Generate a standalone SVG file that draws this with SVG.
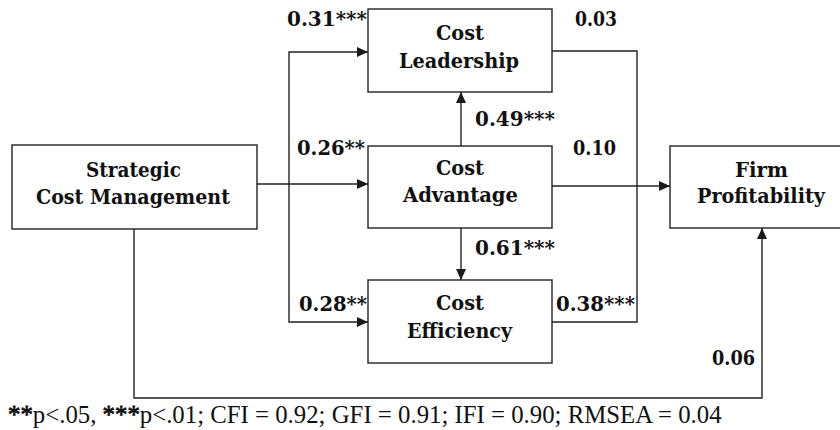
<svg xmlns="http://www.w3.org/2000/svg" width="840" height="430" viewBox="0 0 840 430">
  <defs>
    <marker id="arrow" markerUnits="userSpaceOnUse" markerWidth="12" markerHeight="11" refX="11" refY="5" orient="auto">
      <path d="M0,0 L11,5 L0,10 Z" fill="#1a1a1a"/>
    </marker>
    <style>
      .box { fill: #ffffff; stroke: #222222; stroke-width: 1.4; }
      .edge { fill: none; stroke: #222222; stroke-width: 1.4; }
      .nd { font-family: "DejaVu Serif", serif; font-weight: bold; font-size: 21px; fill: #111111; }
      .cf { font-family: "DejaVu Serif", serif; font-weight: bold; font-size: 20.5px; fill: #111111; }
      .ft { font-family: "Liberation Serif", serif; font-size: 24.8px; fill: #111111; }
      .ft .b { stroke: #111111; stroke-width: 0.8; }
    </style>
  </defs>

  <rect width="840" height="430" fill="#ffffff"/>

  <!-- connectors -->
  <g id="connectors">
    <path class="edge" d="M257,184 H368" marker-end="url(#arrow)"/>
    <path class="edge" d="M289,184 V52 H368" marker-end="url(#arrow)"/>
    <path class="edge" d="M289,184 V322 H368" marker-end="url(#arrow)"/>
    <path class="edge" d="M461,146 V92" marker-end="url(#arrow)"/>
    <path class="edge" d="M461,228 V280" marker-end="url(#arrow)"/>
    <path class="edge" d="M552,186 H670" marker-end="url(#arrow)"/>
    <path class="edge" d="M552,51 H637 V322 H552"/>
    <path class="edge" d="M134,229 V398 H762 V228" marker-end="url(#arrow)"/>
  </g>

  <!-- nodes: two-line titles, each line fitted to its width -->
  <g id="strategic-cost-management">
    <rect class="box" x="12" y="145" width="245" height="84"/>
    <text class="nd" x="86" y="177" textLength="95" lengthAdjust="spacingAndGlyphs">Strategic</text>
    <text class="nd" x="36" y="204" textLength="194" lengthAdjust="spacingAndGlyphs">Cost Management</text>
  </g>
  <g id="cost-leadership">
    <rect class="box" x="368" y="9" width="184" height="83"/>
    <text class="nd" x="436" y="40" textLength="48" lengthAdjust="spacingAndGlyphs">Cost</text>
    <text class="nd" x="399" y="68" textLength="120" lengthAdjust="spacingAndGlyphs">Leadership</text>
  </g>
  <g id="cost-advantage">
    <rect class="box" x="368" y="146" width="184" height="82"/>
    <text class="nd" x="436" y="175" textLength="48" lengthAdjust="spacingAndGlyphs">Cost</text>
    <text class="nd" x="403" y="202" textLength="115" lengthAdjust="spacingAndGlyphs">Advantage</text>
  </g>
  <g id="cost-efficiency">
    <rect class="box" x="368" y="280" width="184" height="83"/>
    <text class="nd" x="436" y="310" textLength="48" lengthAdjust="spacingAndGlyphs">Cost</text>
    <text class="nd" x="407" y="338" textLength="105" lengthAdjust="spacingAndGlyphs">Efficiency</text>
  </g>
  <g id="firm-profitability">
    <rect class="box" x="670" y="146" width="184" height="82"/>
    <text class="nd" x="735" y="177" textLength="53" lengthAdjust="spacingAndGlyphs">Firm</text>
    <text class="nd" x="697" y="203" textLength="128" lengthAdjust="spacingAndGlyphs">Profitability</text>
  </g>

  <!-- path coefficients -->
  <g id="coefficients">
    <text class="cf" x="287" y="26" textLength="80" lengthAdjust="spacingAndGlyphs">0.31***</text>
    <text class="cf" x="575" y="26" textLength="42" lengthAdjust="spacingAndGlyphs">0.03</text>
    <text class="cf" x="475" y="126" textLength="80" lengthAdjust="spacingAndGlyphs">0.49***</text>
    <text class="cf" x="297" y="155" textLength="68" lengthAdjust="spacingAndGlyphs">0.26**</text>
    <text class="cf" x="573" y="155" textLength="43" lengthAdjust="spacingAndGlyphs">0.10</text>
    <text class="cf" x="475" y="255" textLength="80" lengthAdjust="spacingAndGlyphs">0.61***</text>
    <text class="cf" x="299" y="311" textLength="68" lengthAdjust="spacingAndGlyphs">0.28**</text>
    <text class="cf" x="556" y="311" textLength="79" lengthAdjust="spacingAndGlyphs">0.38***</text>
    <text class="cf" x="712" y="365" textLength="43" lengthAdjust="spacingAndGlyphs">0.06</text>
  </g>

  <!-- fit statistics -->
  <text class="ft" x="8" y="423"><tspan class="b">**</tspan>p&lt;.05, <tspan class="b">***</tspan>p&lt;.01; CFI = 0.92; GFI = 0.91; IFI = 0.90; RMSEA = 0.04</text>
</svg>
